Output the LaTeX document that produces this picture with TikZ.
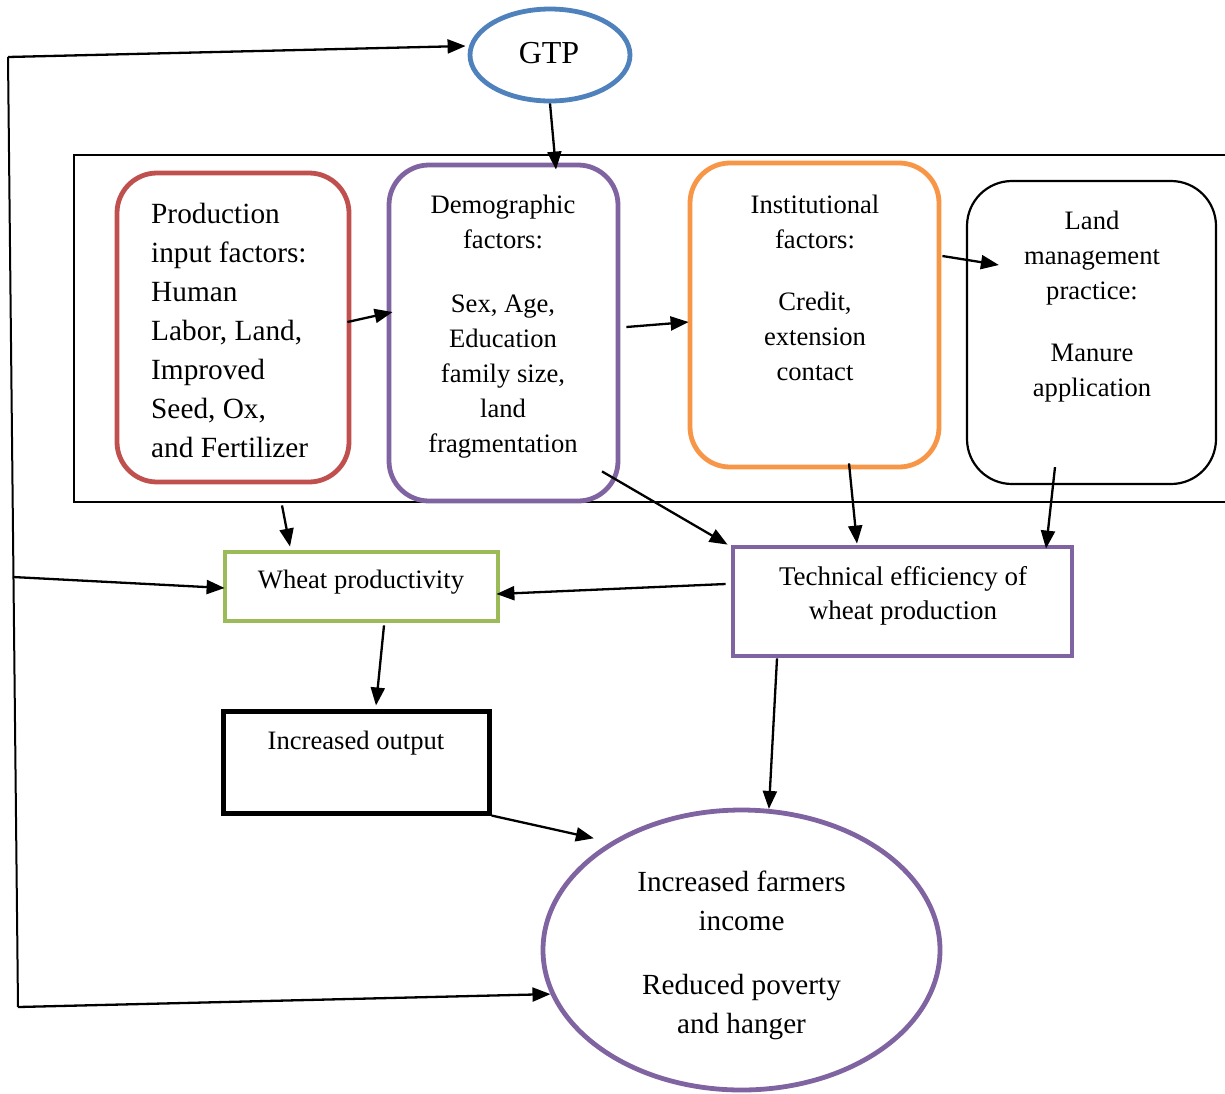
\documentclass[tikz,border=0pt]{standalone}
\usepackage{fontspec}
\setmainfont{Liberation Serif}
\newfontfamily\tnr{Liberation Serif}
\usetikzlibrary{shapes.geometric,arrows.meta,calc}
\definecolor{cred}{HTML}{C0504D}
\definecolor{cpurple}{HTML}{8064A2}
\definecolor{corange}{HTML}{F79646}
\definecolor{cblue}{HTML}{4F81BD}
\definecolor{cgreen}{HTML}{9BBB59}
\begin{document}
\begin{tikzpicture}[x=1pt,y=-1pt,
  rbox/.style={draw, rectangle, rounded corners=40pt, line width=4.8pt, inner sep=0pt},
  sbox/.style={draw, rectangle, line width=4.8pt, inner sep=0pt},
  oval/.style={draw, ellipse, line width=4.8pt, inner sep=0pt},
  txt/.style={inner sep=0pt, align=center, font=\tnr\fontsize{26.6}{35}\selectfont},
  arr/.style={line width=2.3pt, -{Triangle[length=18pt,width=14pt]}},
  fbline/.style={line width=2pt}
]
\useasboundingbox (0,0) rectangle (1225,1093);

% outer frame (extends past the right edge)
\node[draw, rectangle, line width=2pt, inner sep=0pt, minimum width=1166pt, minimum height=347pt] (frame) at (657,328.5) {};

% GTP
\node[oval, draw=cblue, minimum width=160pt, minimum height=92pt] (gtp) at (550,55) {};
\node[txt, font=\tnr\fontsize{32}{36}\selectfont, anchor=north] (gtpt) at (549,42) {GTP};

% top row boxes
\node[rbox, draw=cred, minimum width=232pt, minimum height=309pt] (prod) at (233,327.5) {};
\node[txt, align=left, anchor=north west, font=\tnr\fontsize{29.3}{39}\selectfont] (prodt) at (151,203)
  {Production\\input factors:\\Human\\Labor, Land,\\Improved\\Seed, Ox,\\and Fertilizer};

\node[rbox, draw=cpurple, minimum width=229pt, minimum height=336pt] (demo) at (503.5,333) {};
\node[txt, anchor=north] (demot) at (503,195)
  {Demographic\\factors:\\[29pt]Sex, Age,\\Education\\family size,\\land\\fragmentation};

\node[rbox, draw=corange, minimum width=249pt, minimum height=304pt] (inst) at (814.5,315) {};
\node[txt, anchor=north] (instt) at (815,195)
  {Institutional\\factors:\\[27pt]Credit,\\extension\\contact};

\node[rbox, draw=black, line width=2.2pt, rounded corners=45pt, minimum width=249pt, minimum height=303pt] (land) at (1091.5,332.5) {};
\node[txt, anchor=north] (landt) at (1092,211)
  {Land\\management\\practice:\\[27pt]Manure\\application};

% middle row
\node[sbox, draw=cgreen, minimum width=273pt, minimum height=69pt] (wp) at (361.5,586.5) {};
\node[txt] (wpt) at (361,582) {Wheat productivity};

\node[sbox, draw=cpurple, minimum width=339pt, minimum height=109pt] (te) at (902.5,601.5) {};
\node[txt, font=\tnr\fontsize{27}{34.5}\selectfont, anchor=north] (tet) at (903,566)
  {Technical efficiency of\\wheat production};

\node[sbox, draw=black, line width=5pt, minimum width=266pt, minimum height=102pt] (io) at (356,762) {};
\node[txt, anchor=north] (iot) at (356,731) {Increased output};

% outcome ellipse
\node[oval, draw=cpurple, minimum width=397pt, minimum height=280pt] (inc) at (741.5,950) {};
\node[txt, font=\tnr\fontsize{29.2}{39}\selectfont, anchor=north] (inct) at (741.5,871)
  {Increased farmers\\income\\[25pt]Reduced poverty\\and hanger};

% feedback line on the left
\coordinate (fbtop) at (8,57);
\coordinate (fbmid) at (13,577);
\coordinate (fbbot) at (18,1007);
\draw[fbline] (fbtop) -- (fbbot);
\draw[arr] (fbtop) -- ([shift={(-2,-9)}]gtp.west);
\draw[arr] (fbmid) -- ([shift={(2,1.5)}]wp.west);
\draw[arr] (fbbot) -- (inc.193.5);

% connectors
\draw[arr] (gtp.south) -- ([shift={(52.5,7)}]demo.north);
\draw[arr] ([shift={(-4,-5.5)}]prod.east) -- ([shift={(6,-21)}]demo.west);
\draw[arr] ([shift={(6,-6)}]demo.east) -- ([shift={(1,7)}]inst.west);
\draw[arr] ([shift={(1,-59)}]inst.east) -- ([shift={(33,-67.5)}]land.west);
\draw[arr] ([shift={(49,21)}]prod.south) -- ([shift={(-71.5,-3)}]wp.north);
\draw[arr] ([shift={(98.5,-32)}]demo.south) -- ([shift={(-3,0)}]te.north west);
\draw[arr] ([shift={(34.5,-6)}]inst.south) -- ([shift={(-45.5,-1)}]te.north);
\draw[arr] ([shift={(-36.5,-18)}]land.south) -- ([shift={(143.5,4)}]te.north);
\draw[arr] ([shift={(-5,-17.5)}]te.west) -- ([shift={(-4,7.5)}]wp.east);
\draw[arr] ([shift={(22.5,2)}]wp.south) -- ([shift={(20,-3)}]io.north);
\draw[arr] (io.south east) -- ([shift={(-10,-8)}]inc.143.5);
\draw[arr] ([shift={(-125.5,0)}]te.south) -- (inc.79);
\end{tikzpicture}
\end{document}
